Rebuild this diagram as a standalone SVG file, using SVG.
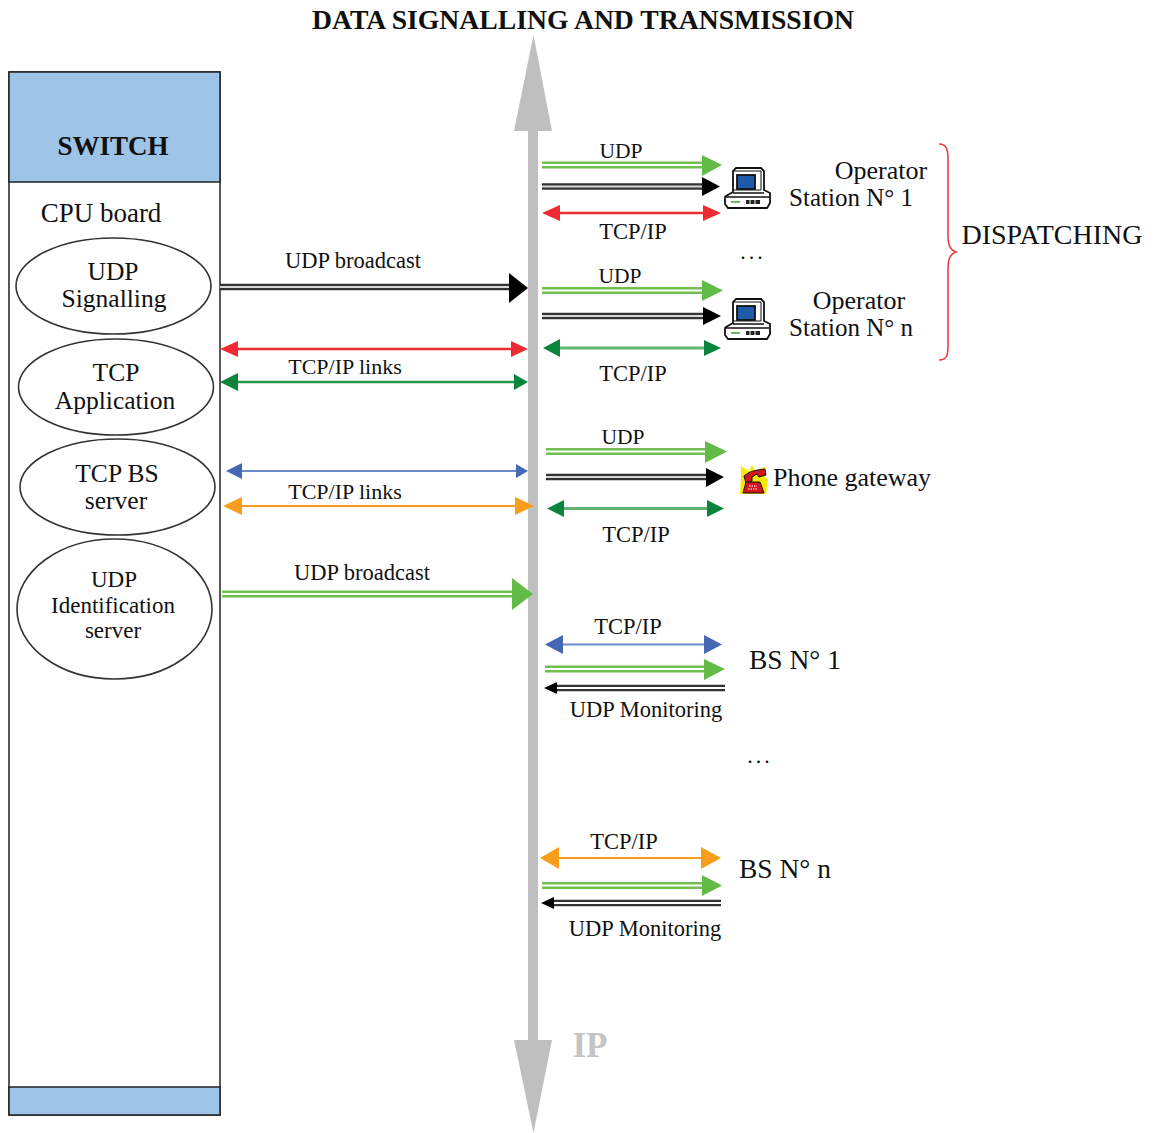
<svg xmlns="http://www.w3.org/2000/svg" width="1157" height="1133" viewBox="0 0 1157 1133">
<style>
text{font-family:"Liberation Serif","Times New Roman",serif;fill:#111;text-anchor:middle}
.box{fill:#fff;stroke:#222;stroke-width:1.5}
.hdr{fill:#9dc3e6;stroke:#222;stroke-width:1.5}
.el{fill:#fff;stroke:#333;stroke-width:1.6}
.g2{stroke:#6fc04f;stroke-width:7;fill:none}
.k2{stroke:#333;stroke-width:6.500;fill:none}
.in{stroke:#fff;stroke-width:1.8;fill:none}
.inkg{stroke:#d8d8d8;stroke-width:1.8;fill:none}
.gf{fill:#62bb46}.kf{fill:#000}.rf{fill:#ee2b33}.df{fill:#0b843d}.bf{fill:#4668b4}.of{fill:#f99d1c}
.rl{stroke:#ee2b33;stroke-width:2.4;fill:none}
.dl{stroke:#1f9a4b;stroke-width:2.4;fill:none}
.dl2{stroke:#5fb56f;stroke-width:3;fill:none}
.bl{stroke:#6d8bc9;stroke-width:2;fill:none}
.ol{stroke:#f99d1c;stroke-width:2;fill:none}
.t22{font-size:22.5px}.tu{font-size:21.5px}.tl{font-size:22px}.tm{font-size:22.500px}.tb{font-size:23.500px}
.dots{font-size:22px;letter-spacing:3px}
.n26{font-size:25.500px}.st{font-size:25px}
</style>
<defs>
<g id="pc">
<path d="M1 28L8 24V3L11 0H36L39 3V22L45 25V35L42 40H3L0 36V29Z" fill="#fff" stroke="#111" stroke-width="1.800"/>
<path d="M8 3H36V22H8" fill="none" stroke="#111" stroke-width="1"/>
<rect x="12" y="7" width="18" height="14" fill="#1f5aa8" stroke="#111" stroke-width="1.800"/>
<path d="M8 25H39M1 29H44" fill="none" stroke="#111" stroke-width="1.400"/>
<rect x="6" y="33" width="9" height="1.800" fill="#6a6"/>
<path d="M21 32h14v4h-14z" fill="#222"/>
<path d="M25 32v4M30 32v4" stroke="#fff" stroke-width="1"/>
</g>
</defs>
<text x="583" y="29" font-size="27" font-weight="bold" textLength="542" lengthAdjust="spacingAndGlyphs">DATA SIGNALLING AND TRANSMISSION</text>

<g id="bus">
<rect x="528" y="128" width="10" height="915" fill="#bfbfbf"/>
<polygon points="533.500,35 552,131 514,131" fill="#bfbfbf"/>
<polygon points="533.500,1133 552,1040 514,1040" fill="#bfbfbf"/>
<text x="590" y="1057" font-size="35" font-weight="bold" style="fill:#c4c4c4">IP</text>
</g>

<g id="switch">
<rect class="box" x="9" y="72" width="211" height="1043"/>
<rect class="hdr" x="9" y="72" width="211" height="110"/>
<rect class="hdr" x="9" y="1087" width="211" height="28"/>
<text x="113" y="155" font-size="27" font-weight="bold">SWITCH</text>
<text x="101" y="222" font-size="27">CPU board</text>
</g>

<g id="udp-signalling">
<ellipse class="el" cx="113.500" cy="286" rx="97.500" ry="48"/>
<text class="n26" x="113" y="280">UDP</text>
<text class="n26" x="114" y="307">Signalling</text>
</g>
<g id="tcp-application">
<ellipse class="el" cx="116" cy="387" rx="97.500" ry="48"/>
<text class="n26" x="116" y="381">TCP</text>
<text class="n26" x="115" y="409">Application</text>
</g>
<g id="tcp-bs-server">
<ellipse class="el" cx="117.500" cy="487" rx="97.500" ry="48"/>
<text class="n26" x="117" y="482">TCP BS</text>
<text class="n26" x="116" y="509">server</text>
</g>
<g id="udp-identification">
<ellipse class="el" cx="114.500" cy="609" rx="97.500" ry="70"/>
<text font-size="23" x="114" y="587">UDP</text>
<text font-size="23" x="113" y="613">Identification</text>
<text font-size="23" x="113" y="638">server</text>
</g>

<g id="connectors">
<path class="k2" d="M220 287H512"/><path class="inkg" d="M220 287H512"/><polygon class="kf" points="528,288 509,273 509,303"/>
<path class="rl" d="M230 349H518"/><polygon class="rf" points="220,349 238,341 238,357"/><polygon class="rf" points="528,349 511,341 511,357"/>
<path class="dl" d="M230 382H518"/><polygon class="df" points="220,382 238,373 238,391"/><polygon class="df" points="528,382 514,374 514,390"/>
<path class="bl" d="M236 471H518"/><polygon class="bf" points="226,471 242,463 242,479"/><polygon class="bf" points="528,471 516,464 516,478"/>
<path class="ol" d="M232 506H524"/><polygon class="of" points="223,506 242,497 242,515"/><polygon class="of" points="534,506 515,497 515,515"/>
<path class="g2" d="M222 594H514"/><path class="in" d="M222 594H514"/><polygon class="gf" points="533,594 512,578 512,610"/>

<path class="g2" d="M542 165H704"/><path class="in" d="M542 165H704"/><polygon class="gf" points="722,165 702,155 702,176"/>
<path class="k2" d="M542 186.500H704"/><path class="inkg" d="M542 186.500H704"/><polygon class="kf" points="720,186.500 702,177 702,196"/>
<path class="rl" d="M552 213H710"/><polygon class="rf" points="542,213 560,205 560,221"/><polygon class="rf" points="721,213 703,205 703,221"/>

<path class="g2" d="M542 290.500H704"/><path class="in" d="M542 290.500H704"/><polygon class="gf" points="723,290.500 702,280 702,301"/>
<path class="k2" d="M542 316H704"/><path class="inkg" d="M542 316H704"/><polygon class="kf" points="721,316 703,307 703,325"/>
<path class="dl2" d="M552 348H710"/><polygon class="df" points="543,348 560,339 560,357"/><polygon class="df" points="721,348 704,340 704,356"/>

<path class="g2" d="M546 451.500H707"/><path class="in" d="M546 451.500H707"/><polygon class="gf" points="727,451.500 705,441 705,463"/>
<path class="k2" d="M546 477H707"/><path class="inkg" d="M546 477H707"/><polygon class="kf" points="724,477 706,468 706,487"/>
<path class="dl2" d="M556 508.500H714"/><polygon class="df" points="547,508.500 564,500 564,517"/><polygon class="df" points="724,508.500 707,500 707,517"/>

<path class="bl" d="M555 644.500H712"/><polygon class="bf" points="545,644.500 563,635 563,654"/><polygon class="bf" points="722,644.500 704,635 704,654"/>
<path class="g2" d="M545 669H707"/><path class="in" d="M545 669H707"/><polygon class="gf" points="725,669 704,659 704,680"/>
<path class="k2" d="M555 688H725"/><path class="in" d="M555 688H725"/><polygon class="kf" points="544,688 557,682 557,694"/>

<path class="ol" d="M552 858H708"/><polygon class="of" points="540,858 559,847 559,869"/><polygon class="of" points="721,858 701,847 701,869"/>
<path class="g2" d="M542 885.500H704"/><path class="in" d="M542 885.500H704"/><polygon class="gf" points="722,885.500 702,875 702,896"/>
<path class="k2" d="M552 903H721"/><path class="in" d="M552 903H721"/><polygon class="kf" points="541,903 554,897 554,909"/>
</g>

<g id="labels">
<text class="t22" x="353" y="268">UDP broadcast</text>
<text class="tl" x="345" y="374">TCP/IP links</text>
<text class="tl" x="345" y="499">TCP/IP links</text>
<text class="t22" x="362" y="580">UDP broadcast</text>
<text class="tu" x="621" y="158">UDP</text>
<text class="t22" x="633" y="239">TCP/IP</text>
<text class="tu" x="620" y="283">UDP</text>
<text class="t22" x="633" y="381">TCP/IP</text>
<text class="tu" x="623" y="444">UDP</text>
<text class="t22" x="636" y="542">TCP/IP</text>
<text class="t22" x="628" y="634">TCP/IP</text>
<text class="tm" x="646" y="717">UDP Monitoring</text>
<text class="t22" x="624" y="849">TCP/IP</text>
<text class="tm" x="645" y="936">UDP Monitoring</text>
<text class="dots" x="753" y="259">...</text>
<text class="dots" x="760" y="763">...</text>
</g>

<g id="operator-1">
<use href="#pc" x="725" y="168"/>
<text x="881" y="179" font-size="26">Operator</text>
<text class="st" x="851" y="206">Station N° 1</text>
</g>
<g id="operator-n">
<use href="#pc" x="725" y="299"/>
<text x="859" y="309" font-size="26">Operator</text>
<text class="st" x="851" y="336">Station N° n</text>
</g>
<g id="dispatching">
<path d="M939 144C947 144 948 150 948 160V235C948 245 950 250 956 252C950 254 948 259 948 269V345C948 355 947 360 939 360" fill="none" stroke="#ee3b45" stroke-width="1.600"/>
<text x="1052" y="244" font-size="28">DISPATCHING</text>
</g>
<g id="phone-gateway">
<polygon points="741,466 749,471 752,465 755,471 766,466 762,474 768,480 766,494 740,494 741,478" fill="#f5ea00"/>
<path d="M744 476C751 470 758 470 765 469L766 475L759 477L757 474L752 477L752 481L746 483Z" fill="#d2161c" stroke="#111" stroke-width="1"/>
<path d="M746 482H760L764 493H743Z" fill="#d2161c" stroke="#111" stroke-width="1"/>
<path d="M749 486h8M748 489h10" stroke="#fff" stroke-width="1" stroke-dasharray="1.500 1"/>
<text x="852" y="486" font-size="26">Phone gateway</text>
</g>
<g id="bs-1"><text x="795" y="669" font-size="27.500">BS N° 1</text></g>
<g id="bs-n"><text x="785" y="878" font-size="27.500">BS N° n</text></g>
</svg>
